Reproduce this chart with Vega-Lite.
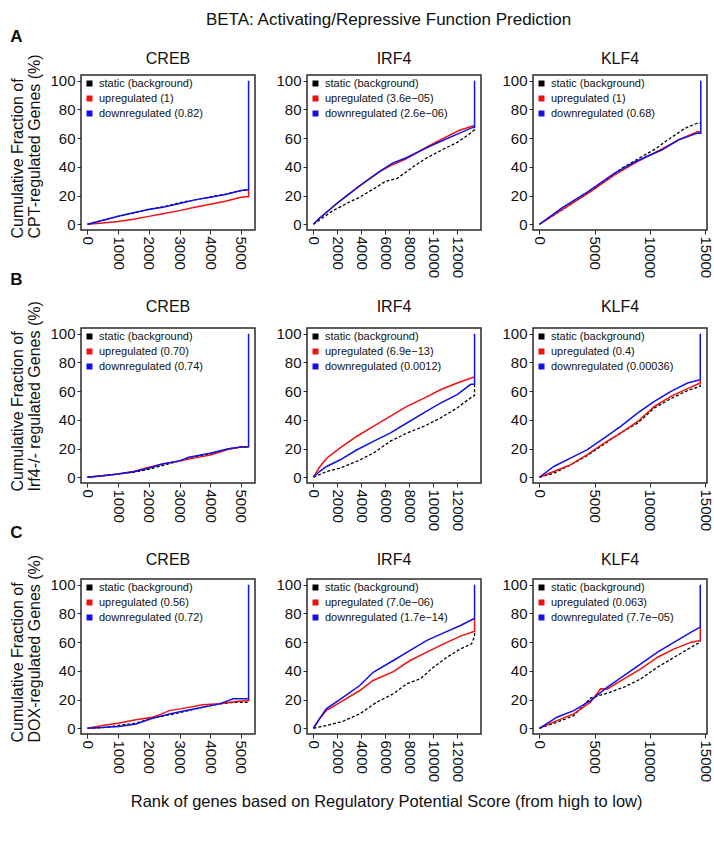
{
"$schema":"https://vega.github.io/schema/vega-lite/v6.json",
"padding":{"left":10,"top":10,"right":4,"bottom":8},
"title":{"text":"BETA: Activating/Repressive Function Prediction","font":"Liberation Sans","fontSize":17,"fontWeight":"normal","anchor":"middle","dx":27,"offset":-1,"color":"#111"},
"resolve":{"scale":{"color":"independent"},"legend":{"color":"independent"}},
"vconcat":[{
"title":{"text":"Rank of genes based on Regulatory Potential Score (from high to low)","orient":"bottom","anchor":"middle","font":"Liberation Sans","fontSize":16.5,"fontWeight":"normal","dx":25,"offset":12,"color":"#111"},
"spacing":-9,
"resolve":{"scale":{"color":"independent"},"legend":{"color":"independent"}},
"vconcat":[
{"title":{"text":"A","anchor":"start","fontWeight":"bold","fontSize":17,"offset":4},
"resolve":{"scale":{"color":"independent"},"legend":{"color":"independent"}},
"vconcat":[{
"title":{"text":["Cumulative Fraction of","CPT-regulated Genes (%)"],"orient":"left","anchor":"start","align":"left","dx":40,"fontSize":16,"lineHeight":17,"offset":6},
"spacing":19,
"resolve":{"scale":{"color":"independent"},"legend":{"color":"independent"}},
"hconcat":[
{"width":174,"height":155,"title":{"text":"CREB","offset":7},
"data":{"values":[
{"s":"static (background)","x":0,"y":0},{"s":"static (background)","x":400,"y":2.3},{"s":"static (background)","x":1000,"y":5.5},{"s":"static (background)","x":1500,"y":7.8},{"s":"static (background)","x":2000,"y":10.5},{"s":"static (background)","x":2500,"y":12.3},{"s":"static (background)","x":3000,"y":15},{"s":"static (background)","x":3500,"y":17},{"s":"static (background)","x":4000,"y":19},{"s":"static (background)","x":4500,"y":21},{"s":"static (background)","x":5000,"y":23.5},{"s":"static (background)","x":5250,"y":24},
{"s":"upregulated (1)","x":0,"y":0},{"s":"upregulated (1)","x":500,"y":0.8},{"s":"upregulated (1)","x":1000,"y":2},{"s":"upregulated (1)","x":1500,"y":3.5},{"s":"upregulated (1)","x":2000,"y":5.5},{"s":"upregulated (1)","x":2500,"y":7.5},{"s":"upregulated (1)","x":3000,"y":9.5},{"s":"upregulated (1)","x":3500,"y":11.8},{"s":"upregulated (1)","x":4000,"y":14},{"s":"upregulated (1)","x":4500,"y":16},{"s":"upregulated (1)","x":5000,"y":18.8},{"s":"upregulated (1)","x":5250,"y":19.3},{"s":"upregulated (1)","x":5250,"y":24},
{"s":"downregulated (0.82)","x":0,"y":0},{"s":"downregulated (0.82)","x":400,"y":2.1},{"s":"downregulated (0.82)","x":1000,"y":5.6},{"s":"downregulated (0.82)","x":1500,"y":8},{"s":"downregulated (0.82)","x":2000,"y":10.3},{"s":"downregulated (0.82)","x":2500,"y":12},{"s":"downregulated (0.82)","x":3000,"y":14.5},{"s":"downregulated (0.82)","x":3500,"y":17},{"s":"downregulated (0.82)","x":4000,"y":18.8},{"s":"downregulated (0.82)","x":4500,"y":20.8},{"s":"downregulated (0.82)","x":5000,"y":23.5},{"s":"downregulated (0.82)","x":5250,"y":24},{"s":"downregulated (0.82)","x":5250,"y":100}
]},
"encoding":{
"x":{"field":"x","type":"quantitative","scale":{"domain":[-210,5460],"nice":false,"zero":false},"axis":{"values":[0,1000,2000,3000,4000,5000],"format":"d","title":null}},
"y":{"field":"y","type":"quantitative","scale":{"domain":[-4,104],"nice":false,"zero":false},"axis":{"values":[0,20,40,60,80,100],"title":null}},
"color":{"field":"s","type":"nominal","scale":{"domain":["static (background)","upregulated (1)","downregulated (0.82)"],"range":["#000000","#f01010","#1010e8"]},"legend":{"title":null,"symbolType":"square","symbolSize":9,"symbolStrokeWidth":3}},
"strokeWidth":{"value":1.5},
"order":[{"field":"x","type":"quantitative"},{"field":"y","type":"quantitative"}]},
"layer":[
{"transform":[{"filter":"indexof(datum.s,'static')==0"}],"mark":"line","encoding":{"strokeDash":{"value":[3,2]},"strokeWidth":{"value":1.3}}},
{"transform":[{"filter":"indexof(datum.s,'up')==0"}],"mark":"line"},
{"transform":[{"filter":"indexof(datum.s,'down')==0"}],"mark":"line"}]},
{"width":174,"height":155,"title":{"text":"IRF4","offset":7},
"data":{"values":[
{"s":"static (background)","x":0,"y":0},{"s":"static (background)","x":1500,"y":8.8},{"s":"static (background)","x":3000,"y":15.5},{"s":"static (background)","x":3800,"y":18.6},{"s":"static (background)","x":5000,"y":24.5},{"s":"static (background)","x":6000,"y":29.8},{"s":"static (background)","x":7000,"y":32},{"s":"static (background)","x":7400,"y":34.4},{"s":"static (background)","x":8500,"y":41},{"s":"static (background)","x":9400,"y":46},{"s":"static (background)","x":11000,"y":53},{"s":"static (background)","x":12000,"y":57},{"s":"static (background)","x":13000,"y":62.8},{"s":"static (background)","x":13450,"y":65.8},{"s":"static (background)","x":13450,"y":67.5},
{"s":"upregulated (3.6e−05)","x":0,"y":0},{"s":"upregulated (3.6e−05)","x":500,"y":4.2},{"s":"upregulated (3.6e−05)","x":1000,"y":7.7},{"s":"upregulated (3.6e−05)","x":2000,"y":14.8},{"s":"upregulated (3.6e−05)","x":2700,"y":19.5},{"s":"upregulated (3.6e−05)","x":3800,"y":26.5},{"s":"upregulated (3.6e−05)","x":5500,"y":36.5},{"s":"upregulated (3.6e−05)","x":6600,"y":41.5},{"s":"upregulated (3.6e−05)","x":7700,"y":45.5},{"s":"upregulated (3.6e−05)","x":9400,"y":53.5},{"s":"upregulated (3.6e−05)","x":10500,"y":58.5},{"s":"upregulated (3.6e−05)","x":12200,"y":65.5},{"s":"upregulated (3.6e−05)","x":13300,"y":68.5},{"s":"upregulated (3.6e−05)","x":13450,"y":68.5},
{"s":"downregulated (2.6e−06)","x":0,"y":0},{"s":"downregulated (2.6e−06)","x":500,"y":4.2},{"s":"downregulated (2.6e−06)","x":1000,"y":7.7},{"s":"downregulated (2.6e−06)","x":2000,"y":14.8},{"s":"downregulated (2.6e−06)","x":2700,"y":19.3},{"s":"downregulated (2.6e−06)","x":3800,"y":26.3},{"s":"downregulated (2.6e−06)","x":5500,"y":36.7},{"s":"downregulated (2.6e−06)","x":6600,"y":42.6},{"s":"downregulated (2.6e−06)","x":7700,"y":46.2},{"s":"downregulated (2.6e−06)","x":9400,"y":53},{"s":"downregulated (2.6e−06)","x":10500,"y":57.3},{"s":"downregulated (2.6e−06)","x":12200,"y":63.5},{"s":"downregulated (2.6e−06)","x":13300,"y":67.5},{"s":"downregulated (2.6e−06)","x":13450,"y":67.5},{"s":"downregulated (2.6e−06)","x":13450,"y":100}
]},
"encoding":{
"x":{"field":"x","type":"quantitative","scale":{"domain":[-538,13988],"nice":false,"zero":false},"axis":{"values":[0,2000,4000,6000,8000,10000,12000],"format":"d","title":null}},
"y":{"field":"y","type":"quantitative","scale":{"domain":[-4,104],"nice":false,"zero":false},"axis":{"values":[0,20,40,60,80,100],"title":null}},
"color":{"field":"s","type":"nominal","scale":{"domain":["static (background)","upregulated (3.6e−05)","downregulated (2.6e−06)"],"range":["#000000","#f01010","#1010e8"]},"legend":{"title":null,"symbolType":"square","symbolSize":9,"symbolStrokeWidth":3}},
"strokeWidth":{"value":1.5},
"order":[{"field":"x","type":"quantitative"},{"field":"y","type":"quantitative"}]},
"layer":[
{"transform":[{"filter":"indexof(datum.s,'static')==0"}],"mark":"line","encoding":{"strokeDash":{"value":[3,2]},"strokeWidth":{"value":1.3}}},
{"transform":[{"filter":"indexof(datum.s,'up')==0"}],"mark":"line"},
{"transform":[{"filter":"indexof(datum.s,'down')==0"}],"mark":"line"}]},
{"width":174,"height":155,"title":{"text":"KLF4","offset":7},
"data":{"values":[
{"s":"static (background)","x":0,"y":0},{"s":"static (background)","x":2300,"y":11.2},{"s":"static (background)","x":4700,"y":24},{"s":"static (background)","x":6000,"y":30.5},{"s":"static (background)","x":7450,"y":39},{"s":"static (background)","x":9000,"y":46},{"s":"static (background)","x":10500,"y":52.5},{"s":"static (background)","x":11400,"y":57.7},{"s":"static (background)","x":13200,"y":67},{"s":"static (background)","x":14300,"y":70.5},{"s":"static (background)","x":14600,"y":70.5},
{"s":"upregulated (1)","x":0,"y":0},{"s":"upregulated (1)","x":2000,"y":10},{"s":"upregulated (1)","x":4400,"y":21.5},{"s":"upregulated (1)","x":6800,"y":34.4},{"s":"upregulated (1)","x":8700,"y":43},{"s":"upregulated (1)","x":11100,"y":52.5},{"s":"upregulated (1)","x":12600,"y":59},{"s":"upregulated (1)","x":14300,"y":64.5},{"s":"upregulated (1)","x":14600,"y":64.5},
{"s":"downregulated (0.68)","x":0,"y":0},{"s":"downregulated (0.68)","x":2000,"y":11.2},{"s":"downregulated (0.68)","x":4400,"y":22.8},{"s":"downregulated (0.68)","x":6800,"y":35.6},{"s":"downregulated (0.68)","x":8700,"y":43.7},{"s":"downregulated (0.68)","x":11100,"y":51.9},{"s":"downregulated (0.68)","x":12600,"y":58.8},{"s":"downregulated (0.68)","x":14300,"y":63.5},{"s":"downregulated (0.68)","x":14600,"y":63.5},{"s":"downregulated (0.68)","x":14600,"y":100}
]},
"encoding":{
"x":{"field":"x","type":"quantitative","scale":{"domain":[-583,15160],"nice":false,"zero":false},"axis":{"values":[0,5000,10000,15000],"format":"d","title":null}},
"y":{"field":"y","type":"quantitative","scale":{"domain":[-4,104],"nice":false,"zero":false},"axis":{"values":[0,20,40,60,80,100],"title":null}},
"color":{"field":"s","type":"nominal","scale":{"domain":["static (background)","upregulated (1)","downregulated (0.68)"],"range":["#000000","#f01010","#1010e8"]},"legend":{"title":null,"symbolType":"square","symbolSize":9,"symbolStrokeWidth":3}},
"strokeWidth":{"value":1.5},
"order":[{"field":"x","type":"quantitative"},{"field":"y","type":"quantitative"}]},
"layer":[
{"transform":[{"filter":"indexof(datum.s,'static')==0"}],"mark":"line","encoding":{"strokeDash":{"value":[3,2]},"strokeWidth":{"value":1.3}}},
{"transform":[{"filter":"indexof(datum.s,'up')==0"}],"mark":"line"},
{"transform":[{"filter":"indexof(datum.s,'down')==0"}],"mark":"line"}]}
]}]},
{"title":{"text":"B","anchor":"start","fontWeight":"bold","fontSize":17,"offset":9},
"resolve":{"scale":{"color":"independent"},"legend":{"color":"independent"}},
"vconcat":[{
"title":{"text":["Cumulative Fraction of","Irf4-/- regulated Genes (%)"],"orient":"left","anchor":"start","align":"left","dx":40,"fontSize":16,"lineHeight":17,"offset":6},
"spacing":19,
"resolve":{"scale":{"color":"independent"},"legend":{"color":"independent"}},
"hconcat":[
{"width":174,"height":155,"title":{"text":"CREB","offset":12},
"data":{"values":[
{"s":"static (background)","x":0,"y":0},{"s":"static (background)","x":500,"y":1.1},{"s":"static (background)","x":1000,"y":2.3},{"s":"static (background)","x":1500,"y":3.5},{"s":"static (background)","x":2000,"y":5.5},{"s":"static (background)","x":2500,"y":8.5},{"s":"static (background)","x":3000,"y":11.4},{"s":"static (background)","x":3500,"y":14},{"s":"static (background)","x":4000,"y":16.5},{"s":"static (background)","x":4600,"y":19.8},{"s":"static (background)","x":5000,"y":21},{"s":"static (background)","x":5250,"y":21},{"s":"static (background)","x":5250,"y":21.3},
{"s":"upregulated (0.70)","x":0,"y":0},{"s":"upregulated (0.70)","x":500,"y":1.1},{"s":"upregulated (0.70)","x":1000,"y":2.3},{"s":"upregulated (0.70)","x":1500,"y":4},{"s":"upregulated (0.70)","x":2000,"y":7},{"s":"upregulated (0.70)","x":2500,"y":9.5},{"s":"upregulated (0.70)","x":3000,"y":11.4},{"s":"upregulated (0.70)","x":3500,"y":13.5},{"s":"upregulated (0.70)","x":4000,"y":15.5},{"s":"upregulated (0.70)","x":4600,"y":19.5},{"s":"upregulated (0.70)","x":5000,"y":21},{"s":"upregulated (0.70)","x":5250,"y":21.3},
{"s":"downregulated (0.74)","x":0,"y":0},{"s":"downregulated (0.74)","x":500,"y":1.1},{"s":"downregulated (0.74)","x":1000,"y":2.3},{"s":"downregulated (0.74)","x":1500,"y":3.8},{"s":"downregulated (0.74)","x":2000,"y":6.3},{"s":"downregulated (0.74)","x":2400,"y":9.1},{"s":"downregulated (0.74)","x":3000,"y":11.4},{"s":"downregulated (0.74)","x":3300,"y":14},{"s":"downregulated (0.74)","x":4000,"y":16.8},{"s":"downregulated (0.74)","x":4600,"y":19.8},{"s":"downregulated (0.74)","x":5000,"y":21},{"s":"downregulated (0.74)","x":5250,"y":21.3},{"s":"downregulated (0.74)","x":5250,"y":100}
]},
"encoding":{
"x":{"field":"x","type":"quantitative","scale":{"domain":[-210,5460],"nice":false,"zero":false},"axis":{"values":[0,1000,2000,3000,4000,5000],"format":"d","title":null}},
"y":{"field":"y","type":"quantitative","scale":{"domain":[-4,104],"nice":false,"zero":false},"axis":{"values":[0,20,40,60,80,100],"title":null}},
"color":{"field":"s","type":"nominal","scale":{"domain":["static (background)","upregulated (0.70)","downregulated (0.74)"],"range":["#000000","#f01010","#1010e8"]},"legend":{"title":null,"symbolType":"square","symbolSize":9,"symbolStrokeWidth":3}},
"strokeWidth":{"value":1.5},
"order":[{"field":"x","type":"quantitative"},{"field":"y","type":"quantitative"}]},
"layer":[
{"transform":[{"filter":"indexof(datum.s,'static')==0"}],"mark":"line","encoding":{"strokeDash":{"value":[3,2]},"strokeWidth":{"value":1.3}}},
{"transform":[{"filter":"indexof(datum.s,'up')==0"}],"mark":"line"},
{"transform":[{"filter":"indexof(datum.s,'down')==0"}],"mark":"line"}]},
{"width":174,"height":155,"title":{"text":"IRF4","offset":12},
"data":{"values":[
{"s":"static (background)","x":0,"y":0},{"s":"static (background)","x":1100,"y":4},{"s":"static (background)","x":2200,"y":6.3},{"s":"static (background)","x":3600,"y":11},{"s":"static (background)","x":5000,"y":16.8},{"s":"static (background)","x":6400,"y":25},{"s":"static (background)","x":7800,"y":30.8},{"s":"static (background)","x":9200,"y":35.4},{"s":"static (background)","x":10600,"y":41.3},{"s":"static (background)","x":12000,"y":48.3},{"s":"static (background)","x":13100,"y":55.2},{"s":"static (background)","x":13450,"y":57},{"s":"static (background)","x":13450,"y":65},
{"s":"upregulated (6.9e−13)","x":0,"y":0},{"s":"upregulated (6.9e−13)","x":500,"y":7},{"s":"upregulated (6.9e−13)","x":1100,"y":13.3},{"s":"upregulated (6.9e−13)","x":2200,"y":20.3},{"s":"upregulated (6.9e−13)","x":3600,"y":28.4},{"s":"upregulated (6.9e−13)","x":5000,"y":35.4},{"s":"upregulated (6.9e−13)","x":6400,"y":42.4},{"s":"upregulated (6.9e−13)","x":7800,"y":49.4},{"s":"upregulated (6.9e−13)","x":9200,"y":55},{"s":"upregulated (6.9e−13)","x":10600,"y":61},{"s":"upregulated (6.9e−13)","x":12000,"y":65.7},{"s":"upregulated (6.9e−13)","x":13350,"y":69.7},{"s":"upregulated (6.9e−13)","x":13450,"y":69.7},
{"s":"downregulated (0.0012)","x":0,"y":0},{"s":"downregulated (0.0012)","x":500,"y":4},{"s":"downregulated (0.0012)","x":1100,"y":7.5},{"s":"downregulated (0.0012)","x":2200,"y":12},{"s":"downregulated (0.0012)","x":3600,"y":19},{"s":"downregulated (0.0012)","x":5000,"y":25},{"s":"downregulated (0.0012)","x":6400,"y":30.8},{"s":"downregulated (0.0012)","x":7800,"y":37.8},{"s":"downregulated (0.0012)","x":9200,"y":44.8},{"s":"downregulated (0.0012)","x":10600,"y":51.7},{"s":"downregulated (0.0012)","x":12000,"y":57.6},{"s":"downregulated (0.0012)","x":13100,"y":64.6},{"s":"downregulated (0.0012)","x":13450,"y":65},{"s":"downregulated (0.0012)","x":13450,"y":100}
]},
"encoding":{
"x":{"field":"x","type":"quantitative","scale":{"domain":[-538,13988],"nice":false,"zero":false},"axis":{"values":[0,2000,4000,6000,8000,10000,12000],"format":"d","title":null}},
"y":{"field":"y","type":"quantitative","scale":{"domain":[-4,104],"nice":false,"zero":false},"axis":{"values":[0,20,40,60,80,100],"title":null}},
"color":{"field":"s","type":"nominal","scale":{"domain":["static (background)","upregulated (6.9e−13)","downregulated (0.0012)"],"range":["#000000","#f01010","#1010e8"]},"legend":{"title":null,"symbolType":"square","symbolSize":9,"symbolStrokeWidth":3}},
"strokeWidth":{"value":1.5},
"order":[{"field":"x","type":"quantitative"},{"field":"y","type":"quantitative"}]},
"layer":[
{"transform":[{"filter":"indexof(datum.s,'static')==0"}],"mark":"line","encoding":{"strokeDash":{"value":[3,2]},"strokeWidth":{"value":1.3}}},
{"transform":[{"filter":"indexof(datum.s,'up')==0"}],"mark":"line"},
{"transform":[{"filter":"indexof(datum.s,'down')==0"}],"mark":"line"}]},
{"width":174,"height":155,"title":{"text":"KLF4","offset":12},
"data":{"values":[
{"s":"static (background)","x":0,"y":0},{"s":"static (background)","x":1300,"y":2.8},{"s":"static (background)","x":2800,"y":8.5},{"s":"static (background)","x":4300,"y":15},{"s":"static (background)","x":5850,"y":23},{"s":"static (background)","x":7350,"y":31},{"s":"static (background)","x":8900,"y":37.8},{"s":"static (background)","x":10400,"y":48.3},{"s":"static (background)","x":11900,"y":54.8},{"s":"static (background)","x":13400,"y":60.4},{"s":"static (background)","x":14550,"y":63.4},{"s":"static (background)","x":14550,"y":65.7},
{"s":"upregulated (0.4)","x":0,"y":0},{"s":"upregulated (0.4)","x":1300,"y":4},{"s":"upregulated (0.4)","x":2800,"y":8.6},{"s":"upregulated (0.4)","x":4300,"y":15.6},{"s":"upregulated (0.4)","x":5850,"y":23.8},{"s":"upregulated (0.4)","x":7350,"y":30.8},{"s":"upregulated (0.4)","x":8900,"y":38.9},{"s":"upregulated (0.4)","x":10400,"y":49.4},{"s":"upregulated (0.4)","x":11900,"y":56.4},{"s":"upregulated (0.4)","x":13400,"y":61.8},{"s":"upregulated (0.4)","x":14550,"y":65.7},{"s":"upregulated (0.4)","x":14550,"y":68},
{"s":"downregulated (0.00036)","x":0,"y":0},{"s":"downregulated (0.00036)","x":1300,"y":7.5},{"s":"downregulated (0.00036)","x":2800,"y":13.3},{"s":"downregulated (0.00036)","x":4300,"y":19.1},{"s":"downregulated (0.00036)","x":5850,"y":27.3},{"s":"downregulated (0.00036)","x":7350,"y":35.4},{"s":"downregulated (0.00036)","x":8900,"y":44.8},{"s":"downregulated (0.00036)","x":10400,"y":52.9},{"s":"downregulated (0.00036)","x":11900,"y":59.9},{"s":"downregulated (0.00036)","x":13400,"y":65.7},{"s":"downregulated (0.00036)","x":14550,"y":68},{"s":"downregulated (0.00036)","x":14550,"y":100}
]},
"encoding":{
"x":{"field":"x","type":"quantitative","scale":{"domain":[-583,15160],"nice":false,"zero":false},"axis":{"values":[0,5000,10000,15000],"format":"d","title":null}},
"y":{"field":"y","type":"quantitative","scale":{"domain":[-4,104],"nice":false,"zero":false},"axis":{"values":[0,20,40,60,80,100],"title":null}},
"color":{"field":"s","type":"nominal","scale":{"domain":["static (background)","upregulated (0.4)","downregulated (0.00036)"],"range":["#000000","#f01010","#1010e8"]},"legend":{"title":null,"symbolType":"square","symbolSize":9,"symbolStrokeWidth":3}},
"strokeWidth":{"value":1.5},
"order":[{"field":"x","type":"quantitative"},{"field":"y","type":"quantitative"}]},
"layer":[
{"transform":[{"filter":"indexof(datum.s,'static')==0"}],"mark":"line","encoding":{"strokeDash":{"value":[3,2]},"strokeWidth":{"value":1.3}}},
{"transform":[{"filter":"indexof(datum.s,'up')==0"}],"mark":"line"},
{"transform":[{"filter":"indexof(datum.s,'down')==0"}],"mark":"line"}]}
]}]},
{"title":{"text":"C","anchor":"start","fontWeight":"bold","fontSize":17,"offset":9},
"resolve":{"scale":{"color":"independent"},"legend":{"color":"independent"}},
"vconcat":[{
"title":{"text":["Cumulative Fraction of","DOX-regulated Genes (%)"],"orient":"left","anchor":"start","align":"left","dx":40,"fontSize":16,"lineHeight":17,"offset":6},
"spacing":19,
"resolve":{"scale":{"color":"independent"},"legend":{"color":"independent"}},
"hconcat":[
{"width":174,"height":155,"title":{"text":"CREB","offset":10},
"data":{"values":[
{"s":"static (background)","x":0,"y":0},{"s":"static (background)","x":490,"y":0.5},{"s":"static (background)","x":1580,"y":3.5},{"s":"static (background)","x":2124,"y":7.4},{"s":"static (background)","x":2670,"y":9.3},{"s":"static (background)","x":3213,"y":11.9},{"s":"static (background)","x":3758,"y":14.7},{"s":"static (background)","x":4300,"y":17},{"s":"static (background)","x":4750,"y":18},{"s":"static (background)","x":5250,"y":18},{"s":"static (background)","x":5250,"y":19.3},
{"s":"upregulated (0.56)","x":0,"y":0},{"s":"upregulated (0.56)","x":490,"y":1.9},{"s":"upregulated (0.56)","x":1035,"y":3.7},{"s":"upregulated (0.56)","x":1580,"y":6},{"s":"upregulated (0.56)","x":2124,"y":7.7},{"s":"upregulated (0.56)","x":2340,"y":9.3},{"s":"upregulated (0.56)","x":2670,"y":12.3},{"s":"upregulated (0.56)","x":3213,"y":14.2},{"s":"upregulated (0.56)","x":3758,"y":16.3},{"s":"upregulated (0.56)","x":4300,"y":17},{"s":"upregulated (0.56)","x":4850,"y":18.6},{"s":"upregulated (0.56)","x":5250,"y":19.3},{"s":"upregulated (0.56)","x":5250,"y":20.5},
{"s":"downregulated (0.72)","x":0,"y":0},{"s":"downregulated (0.72)","x":490,"y":0.5},{"s":"downregulated (0.72)","x":1035,"y":1.2},{"s":"downregulated (0.72)","x":1580,"y":3},{"s":"downregulated (0.72)","x":2124,"y":7},{"s":"downregulated (0.72)","x":2670,"y":10},{"s":"downregulated (0.72)","x":3213,"y":12.3},{"s":"downregulated (0.72)","x":3758,"y":14.7},{"s":"downregulated (0.72)","x":4300,"y":17},{"s":"downregulated (0.72)","x":4750,"y":20.5},{"s":"downregulated (0.72)","x":5250,"y":20.5},{"s":"downregulated (0.72)","x":5250,"y":100}
]},
"encoding":{
"x":{"field":"x","type":"quantitative","scale":{"domain":[-210,5460],"nice":false,"zero":false},"axis":{"values":[0,1000,2000,3000,4000,5000],"format":"d","title":null}},
"y":{"field":"y","type":"quantitative","scale":{"domain":[-4,104],"nice":false,"zero":false},"axis":{"values":[0,20,40,60,80,100],"title":null}},
"color":{"field":"s","type":"nominal","scale":{"domain":["static (background)","upregulated (0.56)","downregulated (0.72)"],"range":["#000000","#f01010","#1010e8"]},"legend":{"title":null,"symbolType":"square","symbolSize":9,"symbolStrokeWidth":3}},
"strokeWidth":{"value":1.5},
"order":[{"field":"x","type":"quantitative"},{"field":"y","type":"quantitative"}]},
"layer":[
{"transform":[{"filter":"indexof(datum.s,'static')==0"}],"mark":"line","encoding":{"strokeDash":{"value":[3,2]},"strokeWidth":{"value":1.3}}},
{"transform":[{"filter":"indexof(datum.s,'up')==0"}],"mark":"line"},
{"transform":[{"filter":"indexof(datum.s,'down')==0"}],"mark":"line"}]},
{"width":174,"height":155,"title":{"text":"IRF4","offset":10},
"data":{"values":[
{"s":"static (background)","x":0,"y":0},{"s":"static (background)","x":1065,"y":1.9},{"s":"static (background)","x":2466,"y":4.9},{"s":"static (background)","x":3866,"y":10},{"s":"static (background)","x":5267,"y":18.1},{"s":"static (background)","x":6668,"y":24},{"s":"static (background)","x":7790,"y":31},{"s":"static (background)","x":8911,"y":34.4},{"s":"static (background)","x":10030,"y":42.6},{"s":"static (background)","x":11150,"y":49.5},{"s":"static (background)","x":12270,"y":55.3},{"s":"static (background)","x":13200,"y":58.8},{"s":"static (background)","x":13450,"y":64},{"s":"static (background)","x":13450,"y":67.4},
{"s":"upregulated (7.0e−06)","x":0,"y":0},{"s":"upregulated (7.0e−06)","x":500,"y":6.5},{"s":"upregulated (7.0e−06)","x":1065,"y":12.3},{"s":"upregulated (7.0e−06)","x":2466,"y":19.3},{"s":"upregulated (7.0e−06)","x":3866,"y":26.3},{"s":"upregulated (7.0e−06)","x":4987,"y":33.3},{"s":"upregulated (7.0e−06)","x":6668,"y":39.5},{"s":"upregulated (7.0e−06)","x":8070,"y":47.2},{"s":"upregulated (7.0e−06)","x":9470,"y":53},{"s":"upregulated (7.0e−06)","x":10870,"y":58.8},{"s":"upregulated (7.0e−06)","x":12270,"y":64.2},{"s":"upregulated (7.0e−06)","x":13390,"y":67.4},{"s":"upregulated (7.0e−06)","x":13450,"y":67.4},{"s":"upregulated (7.0e−06)","x":13450,"y":76.3},
{"s":"downregulated (1.7e−14)","x":0,"y":0},{"s":"downregulated (1.7e−14)","x":500,"y":6.5},{"s":"downregulated (1.7e−14)","x":1065,"y":13.5},{"s":"downregulated (1.7e−14)","x":2466,"y":21.6},{"s":"downregulated (1.7e−14)","x":3866,"y":29.8},{"s":"downregulated (1.7e−14)","x":4987,"y":39},{"s":"downregulated (1.7e−14)","x":6668,"y":47.2},{"s":"downregulated (1.7e−14)","x":8070,"y":54.2},{"s":"downregulated (1.7e−14)","x":9470,"y":61.2},{"s":"downregulated (1.7e−14)","x":10870,"y":66.5},{"s":"downregulated (1.7e−14)","x":12270,"y":71.6},{"s":"downregulated (1.7e−14)","x":13390,"y":76.3},{"s":"downregulated (1.7e−14)","x":13450,"y":76.3},{"s":"downregulated (1.7e−14)","x":13450,"y":100}
]},
"encoding":{
"x":{"field":"x","type":"quantitative","scale":{"domain":[-538,13988],"nice":false,"zero":false},"axis":{"values":[0,2000,4000,6000,8000,10000,12000],"format":"d","title":null}},
"y":{"field":"y","type":"quantitative","scale":{"domain":[-4,104],"nice":false,"zero":false},"axis":{"values":[0,20,40,60,80,100],"title":null}},
"color":{"field":"s","type":"nominal","scale":{"domain":["static (background)","upregulated (7.0e−06)","downregulated (1.7e−14)"],"range":["#000000","#f01010","#1010e8"]},"legend":{"title":null,"symbolType":"square","symbolSize":9,"symbolStrokeWidth":3}},
"strokeWidth":{"value":1.5},
"order":[{"field":"x","type":"quantitative"},{"field":"y","type":"quantitative"}]},
"layer":[
{"transform":[{"filter":"indexof(datum.s,'static')==0"}],"mark":"line","encoding":{"strokeDash":{"value":[3,2]},"strokeWidth":{"value":1.3}}},
{"transform":[{"filter":"indexof(datum.s,'up')==0"}],"mark":"line"},
{"transform":[{"filter":"indexof(datum.s,'down')==0"}],"mark":"line"}]},
{"width":174,"height":155,"title":{"text":"KLF4","offset":10},
"data":{"values":[
{"s":"static (background)","x":0,"y":0},{"s":"static (background)","x":1580,"y":4.2},{"s":"static (background)","x":3100,"y":8.8},{"s":"static (background)","x":4620,"y":21},{"s":"static (background)","x":6140,"y":24.5},{"s":"static (background)","x":7650,"y":28.6},{"s":"static (background)","x":9170,"y":34.4},{"s":"static (background)","x":10690,"y":42.6},{"s":"static (background)","x":12200,"y":49.5},{"s":"static (background)","x":13730,"y":56.5},{"s":"static (background)","x":14550,"y":60},{"s":"static (background)","x":14550,"y":61.2},
{"s":"upregulated (0.063)","x":0,"y":0},{"s":"upregulated (0.063)","x":1580,"y":5.3},{"s":"upregulated (0.063)","x":3100,"y":10},{"s":"upregulated (0.063)","x":4620,"y":18.1},{"s":"upregulated (0.063)","x":5530,"y":27.5},{"s":"upregulated (0.063)","x":6140,"y":27.4},{"s":"upregulated (0.063)","x":7650,"y":34.4},{"s":"upregulated (0.063)","x":9170,"y":41.4},{"s":"upregulated (0.063)","x":10690,"y":49.5},{"s":"upregulated (0.063)","x":12200,"y":55.3},{"s":"upregulated (0.063)","x":13730,"y":60},{"s":"upregulated (0.063)","x":14550,"y":61.2},{"s":"upregulated (0.063)","x":14550,"y":70.5},
{"s":"downregulated (7.7e−05)","x":0,"y":0},{"s":"downregulated (7.7e−05)","x":1580,"y":7.7},{"s":"downregulated (7.7e−05)","x":3100,"y":12.3},{"s":"downregulated (7.7e−05)","x":4620,"y":19.3},{"s":"downregulated (7.7e−05)","x":6140,"y":28.6},{"s":"downregulated (7.7e−05)","x":7650,"y":36.7},{"s":"downregulated (7.7e−05)","x":9170,"y":44.9},{"s":"downregulated (7.7e−05)","x":10690,"y":53},{"s":"downregulated (7.7e−05)","x":12200,"y":60},{"s":"downregulated (7.7e−05)","x":13730,"y":67},{"s":"downregulated (7.7e−05)","x":14550,"y":70.5},{"s":"downregulated (7.7e−05)","x":14550,"y":100}
]},
"encoding":{
"x":{"field":"x","type":"quantitative","scale":{"domain":[-583,15160],"nice":false,"zero":false},"axis":{"values":[0,5000,10000,15000],"format":"d","title":null}},
"y":{"field":"y","type":"quantitative","scale":{"domain":[-4,104],"nice":false,"zero":false},"axis":{"values":[0,20,40,60,80,100],"title":null}},
"color":{"field":"s","type":"nominal","scale":{"domain":["static (background)","upregulated (0.063)","downregulated (7.7e−05)"],"range":["#000000","#f01010","#1010e8"]},"legend":{"title":null,"symbolType":"square","symbolSize":9,"symbolStrokeWidth":3}},
"strokeWidth":{"value":1.5},
"order":[{"field":"x","type":"quantitative"},{"field":"y","type":"quantitative"}]},
"layer":[
{"transform":[{"filter":"indexof(datum.s,'static')==0"}],"mark":"line","encoding":{"strokeDash":{"value":[3,2]},"strokeWidth":{"value":1.3}}},
{"transform":[{"filter":"indexof(datum.s,'up')==0"}],"mark":"line"},
{"transform":[{"filter":"indexof(datum.s,'down')==0"}],"mark":"line"}]}
]}]}
]}],
"config":{
"font":"Liberation Sans",
"view":{"stroke":"#2a2a2a","strokeWidth":1.5},
"axis":{"grid":false,"domain":false,"ticks":true,"tickSize":4,"tickColor":"#2a2a2a","tickWidth":1,"labelFont":"Liberation Sans","labelFontSize":15,"labelColor":"#111","labelPadding":2,"labelFlush":false,"labelOverlap":false},
"axisX":{"labelAngle":90},
"legend":{"orient":"top-left","offset":3,"padding":0,"labelFont":"Liberation Sans","labelFontSize":11,"labelColor":"#111","labelOffset":4,"rowPadding":0},
"title":{"font":"Liberation Sans","fontSize":16,"fontWeight":"normal","color":"#111"}
}
}
